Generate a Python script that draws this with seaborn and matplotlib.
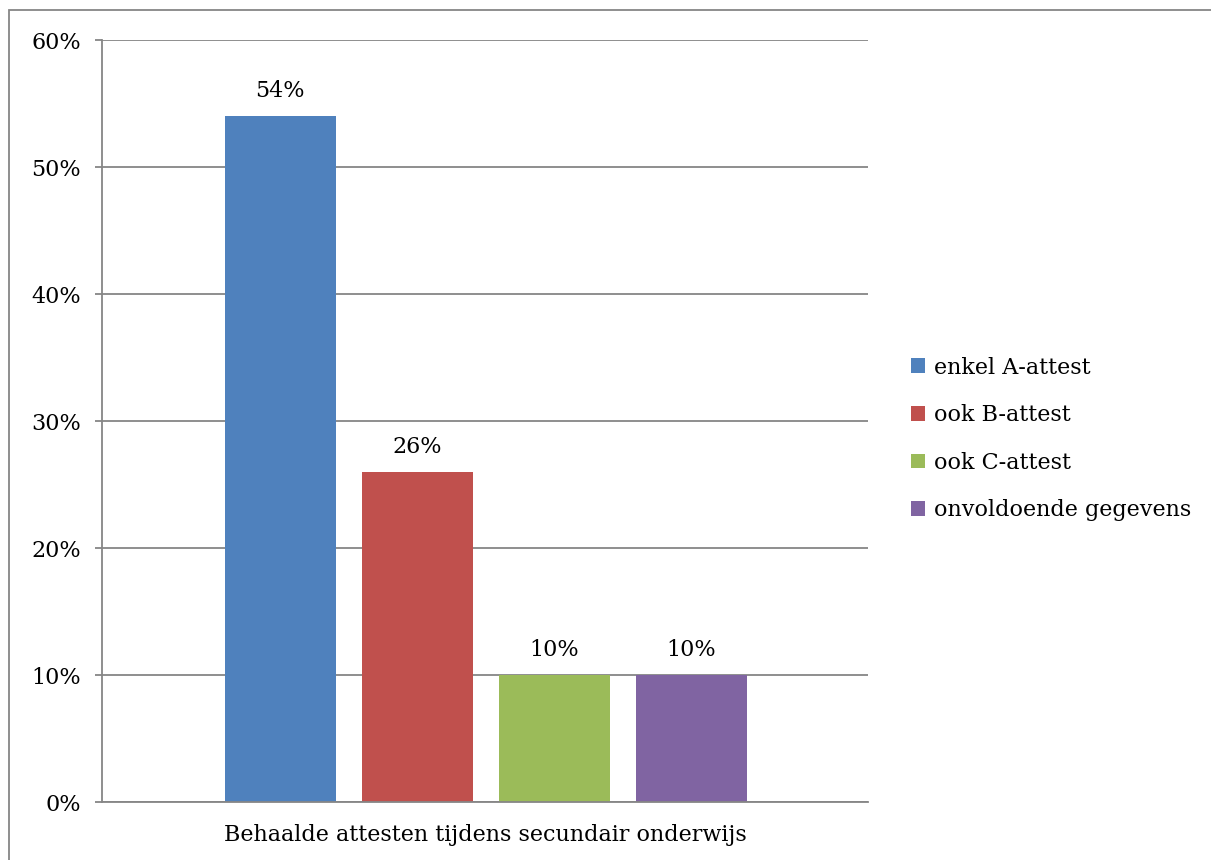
import matplotlib.pyplot as plt
import matplotlib.ticker as ticker
from matplotlib.patches import Rectangle
import seaborn as sns
import pandas as pd

category = ["Behaalde attesten tijdens secundair onderwijs"]
series = ["enkel A-attest", "ook B-attest", "ook C-attest", "onvoldoende gegevens"]
values = [54, 26, 10, 10]
colors = ["#4F81BD", "#C0504D", "#9BBB59", "#8064A2"]

df = pd.DataFrame({"groep": category * len(series), "attest": series, "pct": values})

sns.set_style("white")
plt.rcParams["font.family"] = ["DejaVu Serif"]
plt.rcParams["text.color"] = "black"
plt.rcParams["xtick.labelcolor"] = "black"
plt.rcParams["ytick.labelcolor"] = "black"
grey = "#868686"

fig = plt.figure(figsize=(12.11, 8.6), dpi=100)
ax = fig.add_axes([0.0842, 0.0674, 0.6326, 0.886])

sns.barplot(data=df, x="groep", y="pct", hue="attest", hue_order=series,
            palette=colors, width=0.8, gap=0.19, saturation=1,
            errorbar=None, linewidth=0, ax=ax)

# percentage labels above the bars
for c in ax.containers:
    ax.bar_label(c, fmt="%d%%", padding=10, fontsize=16, color="black")

ax.set_xlim(-0.56, 0.558)
ax.set_ylim(0, 60)
ax.yaxis.set_major_locator(ticker.MultipleLocator(10))
ax.yaxis.set_major_formatter(ticker.FormatStrFormatter("%d%%"))
ax.set_xlabel("")
ax.set_ylabel("")

ax.yaxis.grid(True, color=grey, lw=1.3)
ax.set_axisbelow(True)
for s in ["top", "right"]:
    ax.spines[s].set_visible(False)
for s in ["left", "bottom"]:
    ax.spines[s].set_color(grey)
    ax.spines[s].set_linewidth(1.3)
ax.tick_params(axis="y", length=5, width=1.3, color=grey, labelsize=16, pad=10, left=True)
ax.tick_params(axis="x", length=0, labelsize=16, pad=16)

# legend on the right
h, l = ax.get_legend_handles_labels()
ax.legend(h, l, loc="center left", bbox_to_anchor=(891 / 1211, 1 - 439 / 860),
          bbox_transform=fig.transFigure, frameon=False, fontsize=16,
          handlelength=0.65, handleheight=0.65, handletextpad=0.4, labelspacing=1.15)

# outer chart border
fig.add_artist(Rectangle((9 / 1211, -0.1), 1.1, 1 - 10 / 860 + 0.1,
                         transform=fig.transFigure, fill=False, ec=grey, lw=1.3))

fig.savefig("out.png", dpi=100)
